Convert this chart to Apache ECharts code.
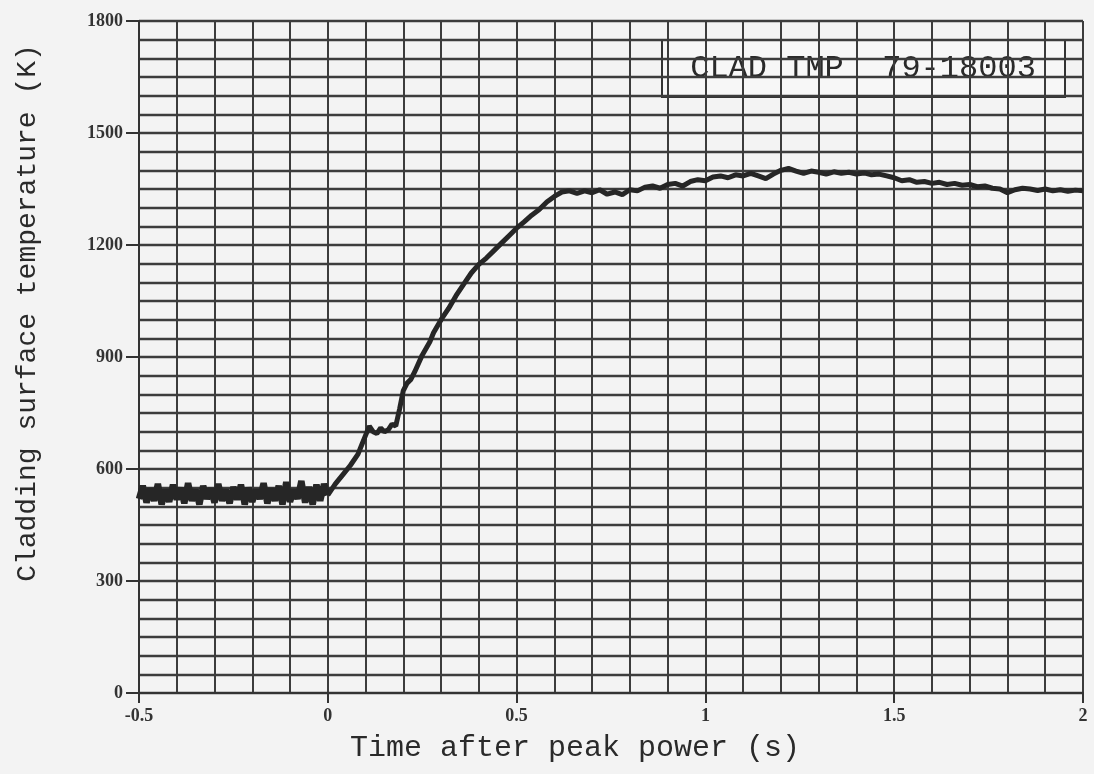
<!DOCTYPE html>
<html>
<head>
<meta charset="utf-8">
<script src="https://cdn.jsdelivr.net/npm/echarts@6/dist/echarts.min.js"></script>
<style>
html,body{margin:0;padding:0;background:#f3f3f3;}
#chart{width:1094px;height:774px;}
</style>
</head>
<body>
<div id="chart"></div>
<script>
// ---- Data ----
const preTimes = [-0.50,-0.49,-0.48,-0.47,-0.46,-0.45,-0.44,-0.43,-0.42,-0.41,-0.40,-0.39,-0.38,-0.37,-0.36,-0.35,-0.34,-0.33,-0.32,-0.31,-0.30,-0.29,-0.28,-0.27,-0.26,-0.25,-0.24,-0.23,-0.22,-0.21,-0.20,-0.19,-0.18,-0.17,-0.16,-0.15,-0.14,-0.13,-0.12,-0.11,-0.10,-0.09,-0.08,-0.07,-0.06,-0.05,-0.04,-0.03,-0.02,-0.01,0.00];
const preTemps = [520,555,510,548,515,560,505,545,512,558,518,550,508,562,515,545,505,555,520,548,510,560,515,545,508,552,518,558,505,550,512,545,520,562,508,548,515,555,505,565,512,545,520,568,510,552,505,558,515,560,530];

const riseTimes = [0.00,0.02,0.04,0.06,0.08,0.09,0.10,0.11,0.12,0.13,0.14,0.15,0.16,0.17,0.18,0.19,0.20,0.21,0.22,0.23,0.25,0.27,0.28,0.30,0.32,0.34,0.36,0.38,0.40,0.42,0.44,0.46,0.48,0.50,0.52,0.54,0.56,0.58,0.60,0.62];
const riseTemps = [530,560,585,610,640,665,690,715,700,695,710,700,705,720,715,760,810,830,840,860,905,940,965,1000,1030,1065,1095,1125,1148,1165,1185,1205,1225,1245,1262,1280,1295,1315,1330,1342];

const plateauTimes = [0.64,0.66,0.68,0.70,0.72,0.74,0.76,0.78,0.80,0.82,0.84,0.86,0.88,0.90,0.92,0.94,0.96,0.98,1.00,1.02,1.04,1.06,1.08,1.10,1.12,1.14,1.16,1.18,1.20,1.22,1.24,1.26,1.28,1.30,1.32,1.34,1.36,1.38,1.40,1.42,1.44,1.46,1.48,1.50,1.52,1.54,1.56,1.58,1.60,1.62,1.64,1.66,1.68,1.70,1.72,1.74,1.76,1.78,1.80,1.82,1.84,1.86,1.88,1.90,1.92,1.94,1.96,1.98,2.00];
const plateauTemps = [1345,1338,1345,1340,1348,1336,1342,1335,1348,1345,1355,1358,1352,1362,1365,1358,1370,1375,1372,1382,1385,1380,1388,1385,1392,1385,1378,1390,1400,1405,1398,1392,1398,1395,1390,1396,1392,1395,1390,1393,1388,1390,1385,1380,1372,1375,1368,1370,1365,1368,1362,1365,1360,1362,1356,1358,1352,1350,1340,1348,1352,1350,1346,1350,1345,1348,1344,1347,1345];

const xTickValues = [-0.5, 0, 0.5, 1, 1.5, 2];
const xTickLabels = ['-0.5', '0', '0.5', '1', '1.5', '2'];
const yTickValues = [0, 300, 600, 900, 1200, 1500, 1800];
const yTickLabels = ['0', '300', '600', '900', '1200', '1500', '1800'];

const xTitle = 'Time after peak power (s)';
const yTitle = 'Cladding surface temperature (K)';
const boxLabel = 'CLAD TMP  79-18003';

// ---- Build ----
const preData = preTimes.map((t, i) => [t, preTemps[i]]);
const mainTimes = riseTimes.concat(plateauTimes);
const mainTemps = riseTemps.concat(plateauTemps);
const mainData = mainTimes.map((t, i) => [t, mainTemps[i]]);

function lookupLabel(values, labels, v) {
  for (let i = 0; i < values.length; i++) {
    if (Math.abs(values[i] - v) < 1e-6) return labels[i];
  }
  return '';
}

const gridColor = '#3c3c3c';
const chart = echarts.init(document.getElementById('chart'));
chart.setOption({
  backgroundColor: '#f3f3f3',
  animation: false,
  grid: { left: 139, right: 11, top: 21, bottom: 81 },
  xAxis: {
    type: 'value',
    min: -0.5, max: 2, interval: 0.5,
    axisLine: { show: true, onZero: false, lineStyle: { color: '#333', width: 2 } },
    axisTick: { show: true, length: 10, lineStyle: { color: '#333', width: 2 } },
    axisLabel: {
      margin: 14,
      color: '#333',
      fontFamily: 'Liberation Serif',
      fontWeight: 'bold',
      fontSize: 18,
      formatter: v => lookupLabel(xTickValues, xTickLabels, v)
    },
    splitLine: { show: true, lineStyle: { color: gridColor, width: 2 } },
    minorTick: { show: false, splitNumber: 5 },
    minorSplitLine: { show: true, lineStyle: { color: gridColor, width: 2 } }
  },
  yAxis: {
    type: 'value',
    min: 0, max: 1800, interval: 300,
    axisLine: { show: true, onZero: false, lineStyle: { color: '#333', width: 2 } },
    axisTick: { show: true, length: 13, lineStyle: { color: '#333', width: 2 } },
    axisLabel: {
      margin: 16,
      color: '#333',
      fontFamily: 'Liberation Serif',
      fontWeight: 'bold',
      fontSize: 18,
      formatter: v => lookupLabel(yTickValues, yTickLabels, v)
    },
    splitLine: { show: true, lineStyle: { color: gridColor, width: 2.4 } },
    minorTick: { show: false, splitNumber: 6 },
    minorSplitLine: { show: true, lineStyle: { color: gridColor, width: 2.4 } }
  },
  series: [
    {
      type: 'line',
      data: preData,
      showSymbol: false,
      smooth: false,
      lineStyle: { color: '#262626', width: 6.5 },
      z: 5
    },
    {
      type: 'line',
      data: mainData,
      showSymbol: false,
      smooth: false,
      lineStyle: { color: '#262626', width: 5 },
      z: 5
    }
  ],
  graphic: [
    {
      type: 'text',
      left: 350, top: 733,
      style: { text: xTitle, fill: '#2a2a2a', font: '30px "Liberation Mono"' }
    },
    {
      type: 'text',
      x: 28, y: 313,
      rotation: Math.PI / 2,
      style: { text: yTitle, fill: '#2a2a2a', font: '28px "Liberation Mono"', align: 'center', verticalAlign: 'middle' }
    },
    {
      type: 'group',
      z: 100,
      children: [
        {
          type: 'rect',
          shape: { x: 662, y: 40, width: 403, height: 57 },
          style: { fill: '#f7f7f7', stroke: '#333', lineWidth: 2 }
        },
        {
          type: 'text',
          x: 863, y: 69,
          style: { text: boxLabel, fill: '#2a2a2a', font: '32px "Liberation Mono"', align: 'center', verticalAlign: 'middle' }
        }
      ]
    }
  ]
});
</script>
</body>
</html>
